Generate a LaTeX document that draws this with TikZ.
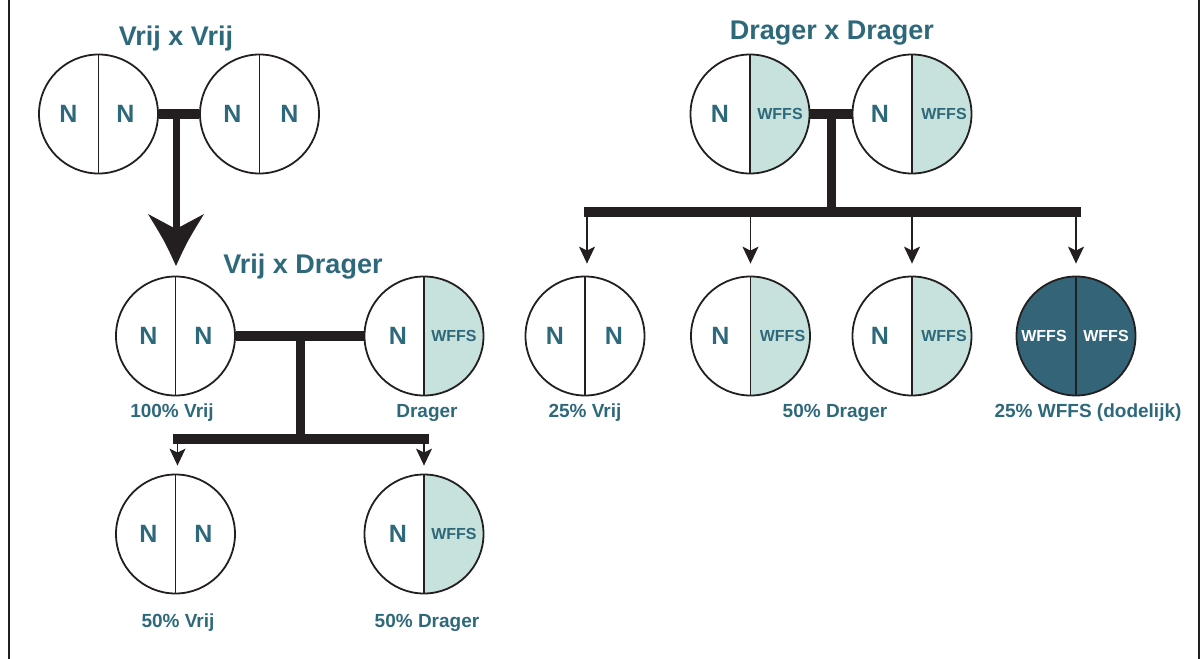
\documentclass[tikz,border=0pt]{standalone}
\usepackage{fontspec}
\setmainfont{Liberation Sans}
\usetikzlibrary{arrows.meta}
\definecolor{ink}{RGB}{35,31,32}
\definecolor{lightf}{RGB}{199,225,220}
\definecolor{darkf}{RGB}{51,100,120}
\definecolor{txt}{RGB}{46,105,123}
\begin{document}
\begin{tikzpicture}[x=1pt,y=-1pt,
  allele/.style={circle, draw=ink, line width=1.8pt, minimum size=119pt, inner sep=0pt},
  free/.style={allele, path picture={\draw[ink,line width=1.3pt] (path picture bounding box.north) -- (path picture bounding box.south);}},
  carrier/.style={allele, path picture={\fill[lightf] (path picture bounding box.north) rectangle (path picture bounding box.south east); \draw[ink,line width=1.3pt] (path picture bounding box.north) -- (path picture bounding box.south);}},
  affected/.style={allele, fill=darkf, path picture={\draw[ink,line width=1.3pt] (path picture bounding box.north) -- (path picture bounding box.south);}},
  gn/.style={inner sep=0pt, text=txt, font=\fontsize{25}{28}\selectfont\bfseries},
  gw/.style={inner sep=0pt, text=txt, font=\fontsize{16}{18}\selectfont\bfseries},
  gww/.style={gw, text=white},
  title/.style={inner sep=0pt, anchor=base, text=txt, font=\fontsize{27}{30}\selectfont\bfseries},
  lab/.style={inner sep=0pt, anchor=base, text=txt, font=\fontsize{19}{22}\selectfont\bfseries},
  bar/.style={draw=ink, line width=10pt},
  stem/.style={draw=ink, line width=9pt},
  thinarrow/.style={draw=ink, line width=1.3pt, -{Stealth[length=17pt,width=16pt,inset=4pt]}},
  frame/.style={draw=ink, line width=2pt}
]
\useasboundingbox (0,0) rectangle (1203,659);
\draw[frame] (9,0) -- (9,659);
\draw[frame] (1198.5,0) -- (1198.5,659);

% ---------- Vrij x Vrij ----------
\node[title] (t1) at (176,45) {Vrij x Vrij};
\node[free] (c1) at (98.5,114) {};
\node[free] (c2) at (259.5,114) {};
\node[gn, xshift=-30pt] (c1a) at (c1) {N};
\node[gn, xshift=27pt] (c1b) at (c1) {N};
\node[gn, xshift=-27pt] (c2a) at (c2) {N};
\node[gn, xshift=30pt] (c2b) at (c2) {N};
\coordinate (j1) at (176,115);
\coordinate (n1) at (176,229);
\coordinate (tip1) at (176,266);
\draw[bar] (c1.east) -- (c2.west);
\draw[draw=ink, line width=7pt] (j1) -- (n1);
\fill[ink] (tip1) .. controls (187,242) .. (204,214) -- (n1) -- (148,214) .. controls (165,242) .. (tip1) -- cycle;

% ---------- Vrij x Drager ----------
\node[title] (t2) at (303,273) {Vrij x Drager};
\node[free] (c3) at (175.5,336) {};
\node[carrier] (c4) at (424,336) {};
\node[gn, xshift=-27pt] at (c3) {N};
\node[gn, xshift=28pt] at (c3) {N};
\node[gn, xshift=-26pt] at (c4) {N};
\node[gw, xshift=30pt] at (c4) {WFFS};
\node[lab] (l3) at (172,417.5) {100\% Vrij};
\node[lab] (l4) at (427,417.5) {Drager};
\draw[bar] (c3.east) -- (c4.west);
\coordinate (j2) at (300,336);
\coordinate (k2) at (300,439);
\draw[stem] (j2) -- (k2);
\coordinate (b2l) at (173,439);
\coordinate (b2r) at (429,439);
\draw[bar] (b2l) -- (b2r);

\node[free] (c5) at (175.5,534) {};
\node[carrier] (c6) at (424,534) {};
\node[gn, xshift=-27pt] at (c5) {N};
\node[gn, xshift=28pt] at (c5) {N};
\node[gn, xshift=-26pt] at (c6) {N};
\node[gw, xshift=30pt] at (c6) {WFFS};
\node[lab] (l5) at (178,627.5) {50\% Vrij};
\node[lab] (l6) at (427,627.5) {50\% Drager};
\draw[thinarrow, shorten >=8pt] ([xshift=2pt]c5.north |- b2l) -- ([xshift=2pt]c5.north);
\draw[thinarrow, shorten >=8pt] (c6.north |- b2r) -- (c6.north);

% ---------- Drager x Drager ----------
\node[title] (t3) at (832,39.5) {Drager x Drager};
\node[carrier] (c7) at (750,114) {};
\node[carrier] (c8) at (912,114) {};
\node[gn, xshift=-30pt] at (c7) {N};
\node[gw, xshift=30pt] at (c7) {WFFS};
\node[gn, xshift=-32pt] at (c8) {N};
\node[gw, xshift=32pt] at (c8) {WFFS};
\draw[bar] (c7.east) -- (c8.west);
\coordinate (j3) at (831,114);
\coordinate (k3) at (831,212);
\draw[stem] (j3) -- (k3);
\coordinate (b3l) at (584,212);
\coordinate (b3r) at (1081,212);
\draw[bar] (b3l) -- (b3r);

\node[free] (c9) at (585,336) {};
\node[carrier] (c10) at (750.5,336) {};
\node[carrier] (c11) at (912,336) {};
\node[affected] (c12) at (1076,336) {};
\node[gn, xshift=-30pt] at (c9) {N};
\node[gn, xshift=29pt] at (c9) {N};
\node[gn, xshift=-30pt] at (c10) {N};
\node[gw, xshift=32pt] at (c10) {WFFS};
\node[gn, xshift=-32pt] at (c11) {N};
\node[gw, xshift=32pt] at (c11) {WFFS};
\node[gww, xshift=-32pt] at (c12) {WFFS};
\node[gww, xshift=30pt] at (c12) {WFFS};
\draw[thinarrow, shorten >=12pt] ([xshift=2pt]c9.north |- b3l) -- ([xshift=2pt]c9.north);
\draw[thinarrow, shorten >=12pt] (c10.north |- b3l) -- (c10.north);
\draw[thinarrow, shorten >=12pt] (c11.north |- b3l) -- (c11.north);
\draw[thinarrow, shorten >=12pt] (c12.north |- b3r) -- (c12.north);
\node[lab] (l9) at (585,417) {25\% Vrij};
\node[lab] (l10) at (835,417) {50\% Drager};
\node[lab] (l12) at (1088,417) {25\% WFFS (dodelijk)};
\end{tikzpicture}
\end{document}
